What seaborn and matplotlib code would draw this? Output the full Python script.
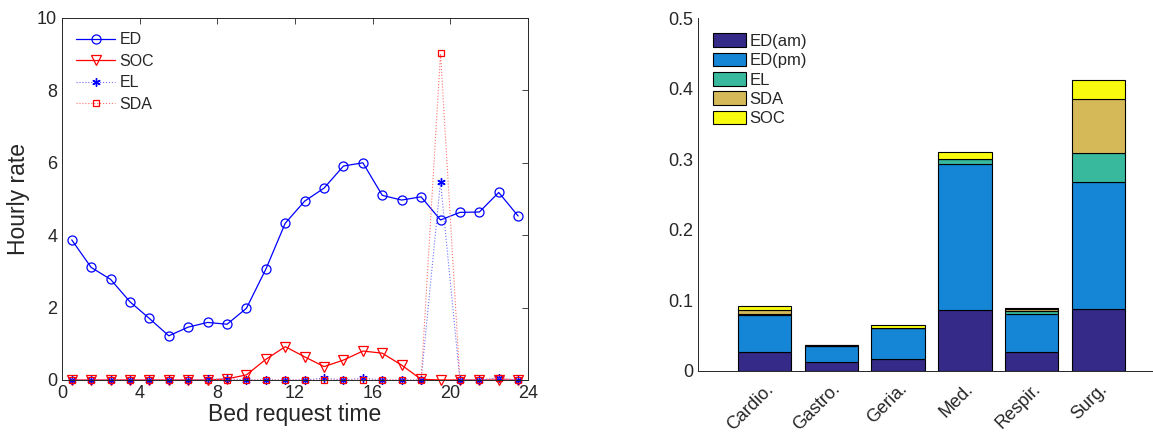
import matplotlib
matplotlib.use("Agg")
import matplotlib.pyplot as plt
import seaborn as sns
import numpy as np

# hourly bed request rates (x = mid-hour)
hours = [h + 0.5 for h in range(24)]
ed = [3.87, 3.11, 2.78, 2.16, 1.70, 1.22, 1.46, 1.59, 1.54, 1.98, 3.06, 4.33,
      4.94, 5.30, 5.91, 6.00, 5.10, 4.97, 5.06, 4.42, 4.63, 4.64, 5.18, 4.53]
soc = [0, 0, 0, 0, 0, 0, 0, 0, 0.03, 0.14, 0.57, 0.92,
       0.64, 0.37, 0.55, 0.80, 0.74, 0.41, 0.02, 0, 0, 0, 0, 0]
el = [0, 0, 0, 0, 0, 0, 0, 0.02, 0.03, 0, 0, 0,
      0, 0.05, 0, 0.05, 0, 0, 0, 5.48, 0, 0, 0.05, 0]
sda = [0, 0, 0, 0, 0, 0, 0, 0, 0, 0, 0, 0,
       0, 0, 0, 0, 0, 0, 0, 9.02, 0, 0, 0.05, 0]

# stacked bar shares per specialty
specialties = ["Cardio.", "Gastro.", "Geria.", "Med.", "Respir.", "Surg."]
ed_am = [0.026, 0.012, 0.017, 0.086, 0.027, 0.088]
ed_pm = [0.053, 0.023, 0.043, 0.207, 0.053, 0.180]
el_b = [0.002, 0.0005, 0.0005, 0.007, 0.005, 0.041]
sda_b = [0.005, 0.0003, 0.0005, 0.001, 0.003, 0.077]
soc_b = [0.006, 0.0005, 0.004, 0.009, 0.0005, 0.026]

sns.set_style("white")
plt.rcParams["font.family"] = ["Liberation Sans", "DejaVu Sans"]

fig = plt.figure(figsize=(11.53, 4.32), dpi=100)
ax1 = fig.add_axes([0.0538, 0.1204, 0.404, 0.838])
ax2 = fig.add_axes([0.6054, 0.1419, 0.3946, 0.8157])

# ---- left: hourly rate lines
sns.lineplot(x=hours, y=ed, ax=ax1, color="blue", marker="o", markersize=6.5,
             mfc="none", mec="blue", mew=0.9, lw=0.9, label="ED", clip_on=False)
sns.lineplot(x=hours, y=soc, ax=ax1, color="red", marker="v", markersize=7,
             mfc="none", mec="red", mew=0.9, lw=0.9, label="SOC", clip_on=False)
sns.lineplot(x=hours, y=el, ax=ax1, color="#7070ff", marker=(6, 2, 0),
             markersize=6, mec="blue", mew=1.0, lw=0.8, ls=":", label="EL",
             clip_on=False)
sns.lineplot(x=hours, y=sda, ax=ax1, color="#ff7070", marker="s", markersize=4.5,
             mfc="none", mec="red", mew=0.9, lw=0.8, ls=":", label="SDA",
             clip_on=False)
ax1.set_xlim(0, 24)
ax1.set_ylim(0, 10)
ax1.set_xticks([0, 4, 8, 12, 16, 20, 24])
ax1.set_yticks([0, 2, 4, 6, 8, 10])
ax1.set_xlabel("Bed request time", fontsize=16.5, color="#262626", labelpad=1)
ax1.set_ylabel("Hourly rate", fontsize=16.5, color="#262626", labelpad=5)
ax1.tick_params(direction="in", labelsize=13, colors="#262626", length=4,
                top=True, right=True, width=0.6)
for s in ax1.spines.values():
    s.set_color("#262626")
    s.set_linewidth(0.7)
ax1.legend(loc="upper left", frameon=False, fontsize=11.5, handlelength=2.4,
           handletextpad=0.3, labelspacing=0.4, borderaxespad=0.5)

# ---- right: stacked bars
colors = ["#352a87", "#1585d5", "#38b99e", "#d5b958", "#f9fb0e"]
names = ["ED(am)", "ED(pm)", "EL", "SDA", "SOC"]
bottom = np.zeros(len(specialties))
for vals, c, n in zip([ed_am, ed_pm, el_b, sda_b, soc_b], colors, names):
    sns.barplot(x=specialties, y=vals, ax=ax2, color=c, bottom=bottom,
                saturation=1, width=0.8, edgecolor="black", linewidth=0.8,
                label=n)
    bottom = bottom + np.array(vals)
ax2.set_xlim(-1, 5.82)
ax2.set_ylim(0, 0.5)
ax2.set_yticks([0, 0.1, 0.2, 0.3, 0.4, 0.5])
ax2.set_yticklabels(["0", "0.1", "0.2", "0.3", "0.4", "0.5"])
ax2.tick_params(direction="in", labelsize=13, colors="#262626", length=4, width=0.6)
ax2.tick_params(axis="x", rotation=45, length=0, pad=7)
for lab in ax2.get_xticklabels():
    lab.set_ha("right")
    lab.set_rotation_mode("anchor")
ax2.spines["top"].set_visible(False)
ax2.spines["right"].set_visible(False)
for s in ["left", "bottom"]:
    ax2.spines[s].set_color("#262626")
    ax2.spines[s].set_linewidth(0.7)
ax2.legend(loc="upper left", frameon=False, fontsize=12, handlelength=2.0,
           handleheight=0.9, handletextpad=0.2, labelspacing=0.22,
           borderaxespad=0.5)

fig.savefig("out.png", dpi=100)
